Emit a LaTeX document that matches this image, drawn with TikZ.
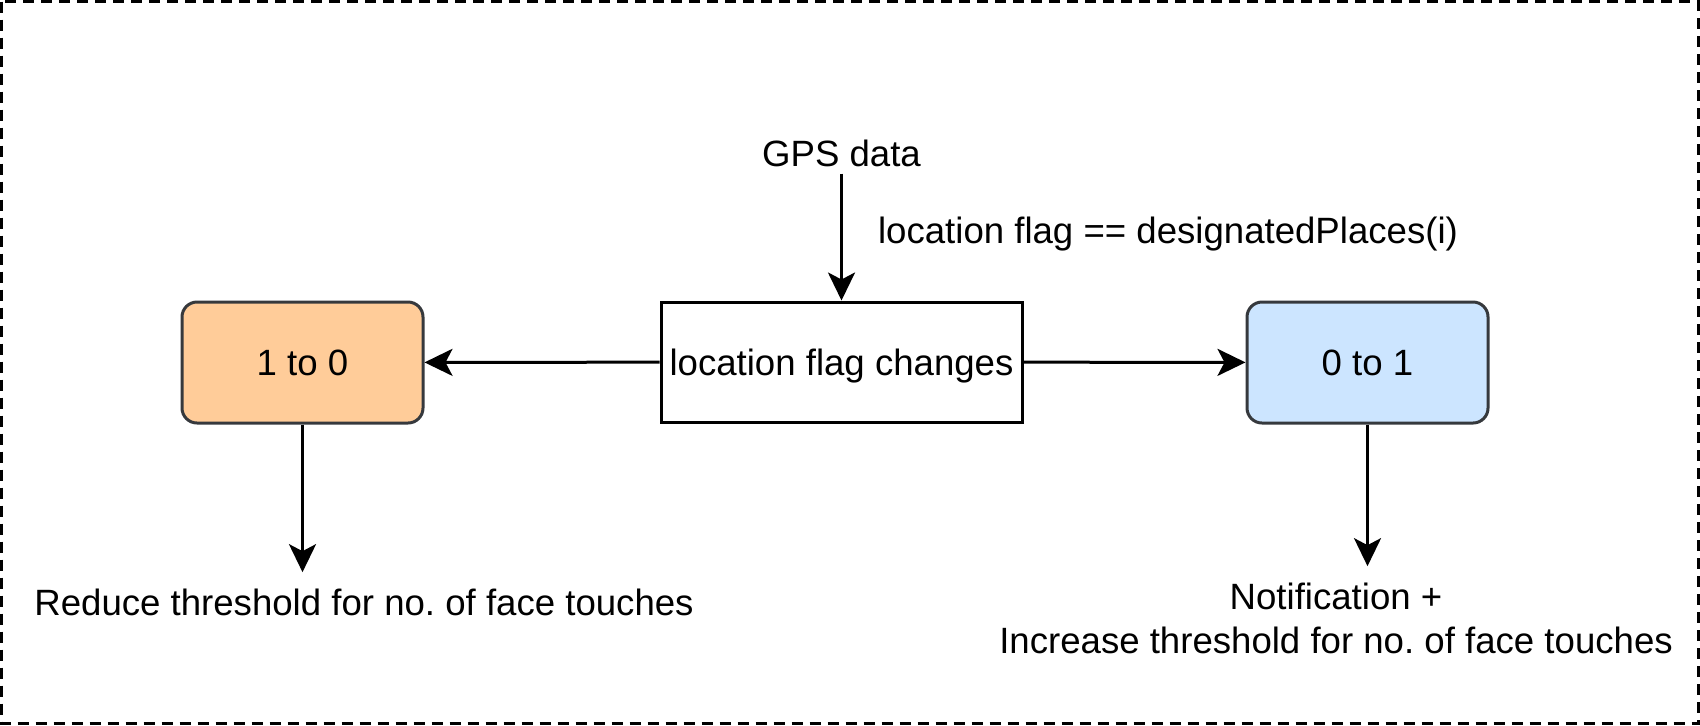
\documentclass[tikz,border=0pt]{standalone}
\usepackage{fontspec}
\setmainfont{Liberation Sans}
\usetikzlibrary{arrows.meta}
\definecolor{boxline}{HTML}{36393D}
\definecolor{orangefill}{HTML}{FFCC99}
\definecolor{bluefill}{HTML}{CCE5FF}
\tikzset{
  flagbox/.style={draw=boxline, line width=1.5pt, rounded corners=7.5pt,
    minimum width=120.5pt, minimum height=60.5pt, inner sep=0pt},
  arr/.style={line width=1.5pt, -{Stealth[length=14pt,width=13.5pt,inset=3.5pt]}},
}
\begin{document}
\begin{tikzpicture}[x=0.5pt, y=-0.5pt, font=\fontsize{18.3}{22}\selectfont]
  \useasboundingbox (0,0) rectangle (1700,725);
  % The outer frame
  \draw[line width=1.5pt, dash pattern=on 5.5pt off 3.5pt] (1.5,1.5) rectangle (1698.5,723.5);

  % The flag check
  \node (gps) at (841.5,153) {GPS data};
  \node[draw, line width=1.5pt, fill=white, minimum width=180.5pt, minimum height=60pt, inner sep=0pt, text depth=0pt] (chg) at (841.5,362) {location flag changes};
  \node[anchor=west] (cond) at (871,234) {location flag == designatedPlaces(i)};

  % The two transitions
  \node[flagbox, fill=orangefill] (off) at (302.5,362.5) {1 to 0};
  \node[flagbox, fill=bluefill] (on) at (1367.5,362.5) {0 to 1};

  % The outcomes
  \node[inner sep=8pt] (reduce) at (364,602) {Reduce threshold for no.\ of face touches};
  \node[inner sep=8pt, align=center] (increase) at (1336,618) {Notification +\\Increase threshold for no.\ of face touches};

  \draw[arr] (gps) -- (chg);
  \draw[arr] (chg) -- (off);
  \draw[arr] (chg) -- (on);
  \draw[arr] (off) -- (off |- reduce.north);
  \draw[arr] (on) -- (on |- increase.north);
\end{tikzpicture}
\end{document}
